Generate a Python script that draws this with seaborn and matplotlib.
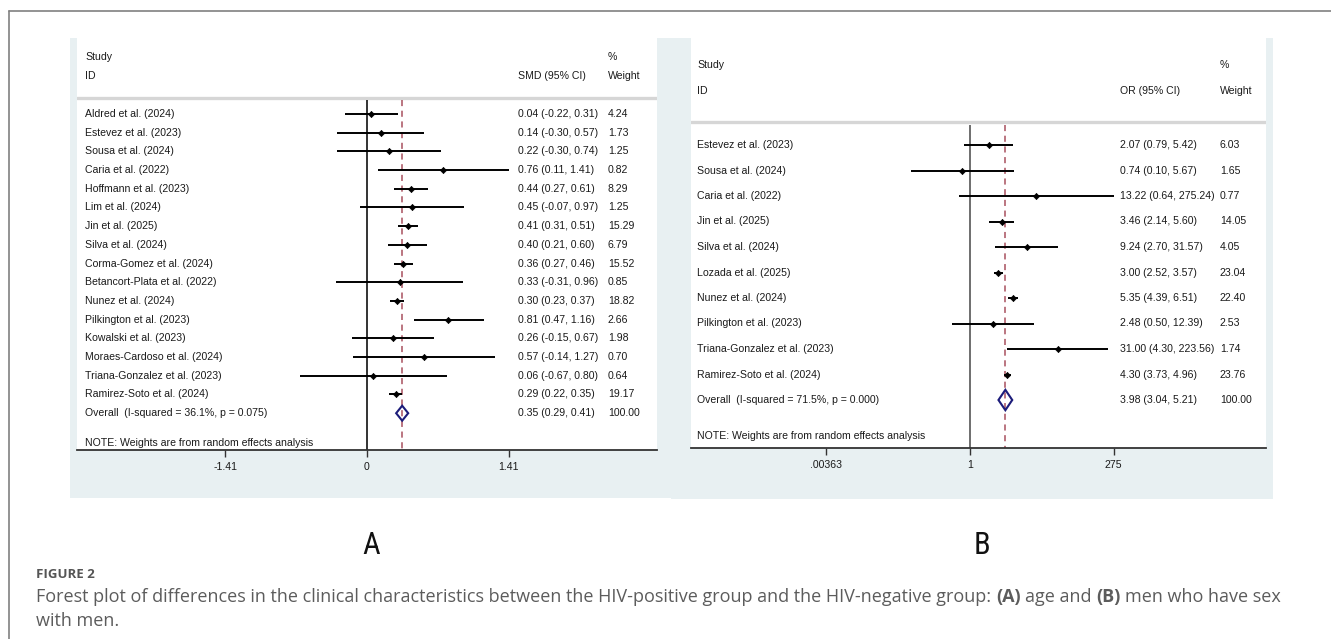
import numpy as np
import pandas as pd
import matplotlib
matplotlib.use("Agg")
import matplotlib.pyplot as plt
import seaborn as sns
from matplotlib.patches import Rectangle, Polygon
from matplotlib.lines import Line2D
from matplotlib.transforms import blended_transform_factory
from matplotlib import font_manager as fm

# ---------------- data ----------------
a_studies = ["Aldred et al. (2024)", "Estevez et al. (2023)", "Sousa et al. (2024)",
             "Caria et al. (2022)", "Hoffmann et al. (2023)", "Lim et al. (2024)",
             "Jin et al. (2025)", "Silva et al. (2024)", "Corma-Gomez et al. (2024)",
             "Betancort-Plata et al. (2022)", "Nunez et al. (2024)", "Pilkington et al. (2023)",
             "Kowalski et al. (2023)", "Moraes-Cardoso et al. (2024)",
             "Triana-Gonzalez et al. (2023)", "Ramirez-Soto et al. (2024)"]
a_est = [0.04, 0.14, 0.22, 0.76, 0.44, 0.45, 0.41, 0.40, 0.36, 0.33, 0.30, 0.81, 0.26, 0.57, 0.06, 0.29]
a_lo = [-0.22, -0.30, -0.30, 0.11, 0.27, -0.07, 0.31, 0.21, 0.27, -0.31, 0.23, 0.47, -0.15, -0.14, -0.67, 0.22]
a_hi = [0.31, 0.57, 0.74, 1.41, 0.61, 0.97, 0.51, 0.60, 0.46, 0.96, 0.37, 1.16, 0.67, 1.27, 0.80, 0.35]
a_w = [4.24, 1.73, 1.25, 0.82, 8.29, 1.25, 15.29, 6.79, 15.52, 0.85, 18.82, 2.66, 1.98, 0.70, 0.64, 19.17]
a_overall = (0.35, 0.29, 0.41)
a_overall_label = "Overall  (I-squared = 36.1%, p = 0.075)"
a_ticks = [-1.41, 0, 1.41]
a_ticklabels = ["-1.41", "0", "1.41"]

b_studies = ["Estevez et al. (2023)", "Sousa et al. (2024)", "Caria et al. (2022)",
             "Jin et al. (2025)", "Silva et al. (2024)", "Lozada et al. (2025)",
             "Nunez et al. (2024)", "Pilkington et al. (2023)",
             "Triana-Gonzalez et al. (2023)", "Ramirez-Soto et al. (2024)"]
b_est = [2.07, 0.74, 13.22, 3.46, 9.24, 3.00, 5.35, 2.48, 31.00, 4.30]
b_lo = [0.79, 0.10, 0.64, 2.14, 2.70, 2.52, 4.39, 0.50, 4.30, 3.73]
b_hi = [5.42, 5.67, 275.24, 5.60, 31.57, 3.57, 6.51, 12.39, 223.56, 4.96]
b_w = [6.03, 1.65, 0.77, 14.05, 4.05, 23.04, 22.40, 2.53, 1.74, 23.76]
b_overall = (3.98, 3.04, 5.21)
b_overall_label = "Overall  (I-squared = 71.5%, p = 0.000)"
b_ticks = [0.00363, 1, 275]
b_ticklabels = [".00363", "1", "275"]

note = "NOTE: Weights are from random effects analysis"
fig_label = "FIGURE 2"
caption_pieces = [("Forest plot of differences in the clinical characteristics between the HIV-positive group and the HIV-negative group:", "normal"),
                  ("(A)", "bold"), ("age and", "normal"), ("(B)", "bold"), ("men who have sex", "normal")]
caption_line2 = "with men."

# ---------------- layout ----------------
W, H = 1331, 639
sns.set_theme(style="white")
plt.rcParams["font.family"] = ["Liberation Sans", "DejaVu Sans"]
fig = plt.figure(figsize=(W / 100, H / 100), dpi=100)
fig.patch.set_facecolor("white")

BG = "#E8F0F2"
TXT = "#1a1a1a"
FS = 7.6


def fig_rect(x0, y0, x1, y1):
    return [x0 / W, 1 - y1 / H, (x1 - x0) / W, (y1 - y0) / H]


# outer frame
fig.add_artist(Line2D([9 / W, 1], [1 - 11 / H, 1 - 11 / H], transform=fig.transFigure,
                      color="#808080", lw=1.2))
fig.add_artist(Line2D([9 / W, 9 / W], [0, 1 - 11 / H], transform=fig.transFigure,
                      color="#808080", lw=1.2))

# panel backgrounds
for (x0, y0, x1, y1) in [(70, 38, 671, 498), (671, 38, 1273, 499)]:
    fig.add_artist(Rectangle((x0 / W, 1 - y1 / H), (x1 - x0) / W, (y1 - y0) / H,
                             transform=fig.transFigure, facecolor=BG, edgecolor="none", zorder=0))


def panel(rect, logx, xlim, ylim, studies, est, lo, hi, w, overall, overall_label,
          ticks, ticklabels, col_label, col_ci, col_w, hdr_study, hdr_id, sep_y,
          note_y, ci_header, diamond_h, vline_color):
    ax = fig.add_axes(fig_rect(*rect))
    ax.set_facecolor("white")
    if logx:
        ax.set_xscale("log")
    ax.set_xlim(*xlim)
    ax.set_ylim(*ylim)
    for s in ["top", "left", "right"]:
        ax.spines[s].set_visible(False)
    ax.spines["bottom"].set_color("#333333")
    ax.spines["bottom"].set_linewidth(1.3)
    ax.set_xticks(ticks)
    ax.set_xticklabels(ticklabels)
    ax.minorticks_off()
    ax.tick_params(axis="x", bottom=True, direction="out", length=5, width=1,
                   color="#333333", labelsize=FS, labelcolor=TXT, pad=4)
    ax.set_yticks([])
    ax.grid(False)

    rows = np.arange(len(studies))
    ybot = ylim[0]
    tr = blended_transform_factory(ax.transAxes, ax.transData)
    x0, x1 = rect[0], rect[2]

    def fx(px):
        return (px - x0) / (x1 - x0)

    def put(px, y, s):
        ax.text(fx(px), y, s, transform=tr, va="center", ha="left", fontsize=FS, color=TXT)

    # header
    ax.axhline(sep_y, color="#d6d6d6", lw=2.4, zorder=1)
    put(col_label, hdr_study, "Study")
    put(col_label, hdr_id, "ID")
    put(col_ci, hdr_id, ci_header)
    put(col_w, hdr_study, "%")
    put(col_w, hdr_id, "Weight")

    # reference lines
    ax.vlines(1 if logx else 0, sep_y + 0.1, ybot, color=vline_color, lw=1.2, zorder=2)
    ax.vlines(overall[0], sep_y + 0.1, ybot, color="#A8505E", lw=1.1,
              linestyles=(0, (4, 3)), zorder=2)

    # study CIs and points
    ax.hlines(rows, lo, hi, color="black", lw=1.4, zorder=3)
    df = pd.DataFrame({"est": est, "row": rows})
    sns.scatterplot(data=df, x="est", y="row", marker="D", s=10, color="black",
                    edgecolor="black", linewidth=0.5, ax=ax, legend=False, zorder=4)
    ax.set_xlabel("")
    ax.set_ylabel("")
    ax.set_ylim(*ylim)

    for r, name, e, l, h, ww in zip(rows, studies, est, lo, hi, w):
        put(col_label, r, name)
        put(col_ci, r, f"{e:.2f} ({l:.2f}, {h:.2f})")
        put(col_w, r, f"{ww:.2f}")

    # overall
    ro = len(studies)
    e, l, h = overall
    ax.add_patch(Polygon([(l, ro), (e, ro - diamond_h), (h, ro), (e, ro + diamond_h)],
                         closed=True, fill=False, edgecolor="#1c1c7a", lw=1.5, zorder=5))
    put(col_label, ro, overall_label)
    put(col_ci, ro, f"{e:.2f} ({l:.2f}, {h:.2f})")
    put(col_w, ro, "100.00")
    put(col_label, note_y, note)
    return ax


# Panel A: zero at 367 px, 100.5 px per unit; rows from 114 px, 18.7 px apart
panel(rect=(77, 38, 657, 450), logx=False,
      xlim=((77 - 367) / 100.5, (657 - 367) / 100.5),
      ylim=((450 - 114) / 18.7, (38 - 114) / 18.7),
      studies=a_studies, est=a_est, lo=a_lo, hi=a_hi, w=a_w,
      overall=a_overall, overall_label=a_overall_label,
      ticks=a_ticks, ticklabels=a_ticklabels,
      col_label=85, col_ci=518, col_w=608,
      hdr_study=(57 - 114) / 18.7, hdr_id=(76 - 114) / 18.7, sep_y=(98.5 - 114) / 18.7,
      note_y=(443 - 114) / 18.7, ci_header="SMD (95% CI)", diamond_h=0.4,
      vline_color="#111111")

# Panel B: 1 at 970 px, 25.6 px per ln-unit; rows from 145 px, 25.5 px apart
panel(rect=(691, 38, 1266, 448), logx=True,
      xlim=(np.exp((691 - 970) / 25.6), np.exp((1266 - 970) / 25.6)),
      ylim=((448 - 145) / 25.5, (38 - 145) / 25.5),
      studies=b_studies, est=b_est, lo=b_lo, hi=b_hi, w=b_w,
      overall=b_overall, overall_label=b_overall_label,
      ticks=b_ticks, ticklabels=b_ticklabels,
      col_label=697, col_ci=1120, col_w=1220,
      hdr_study=(65 - 145) / 25.5, hdr_id=(91 - 145) / 25.5, sep_y=(122 - 145) / 25.5,
      note_y=(436 - 145) / 25.5, ci_header="OR (95% CI)", diamond_h=0.4,
      vline_color="#555555")


# condensed font for the panel letters (real text)
def find_condensed():
    prefs = ["liberationsansnarrow", "robotocondensed", "dejavusanscondensed", "opensanscondensed"]
    cands = []
    for f in fm.fontManager.ttflist:
        key = (f.name + " " + str(f.fname)).lower().replace(" ", "").replace("-", "").replace("_", "")
        if ("narrow" in key or "condensed" in key) and f.style == "normal":
            score = 99
            for i, p in enumerate(prefs):
                if p in key:
                    score = i
                    break
            w = f.weight if isinstance(f.weight, int) else 400
            cands.append((score, abs(w - 400), f.fname))
    if cands:
        cands.sort()
        return fm.FontProperties(fname=cands[0][2])
    return fm.FontProperties(family="DejaVu Sans", stretch="condensed")


letter_fp = find_condensed()
letter_fp.set_size(22)
for x, lab in [(371, "A"), (982, "B")]:
    fig.text(x / W, 1 - 545 / H, lab, ha="center", va="center", fontproperties=letter_fp,
             color="#111111")

# caption
CAP = "#5c5c5c"
CAPX = 36.0
fig.text(CAPX / W, 1 - 574 / H, fig_label, ha="left", va="center", fontsize=9.5,
         family=["Open Sans", "DejaVu Sans"], weight="bold", color="#555555")

renderer = fig.canvas.get_renderer()
cap_fs = 13.0


def measure(s, weight="normal"):
    t = fig.text(0, 0, s, fontsize=cap_fs, family=["Open Sans", "DejaVu Sans"], weight=weight)
    wdt = t.get_window_extent(renderer).width
    t.remove()
    return wdt


space = measure("a a") - measure("aa")
xpos = CAPX
for s, wt in caption_pieces:
    t = fig.text(xpos / W, 1 - 597 / H, s, ha="left", va="center", fontsize=cap_fs,
                 family=["Open Sans", "DejaVu Sans"], weight=wt, color=CAP)
    xpos += t.get_window_extent(renderer).width + space
fig.text(CAPX / W, 1 - 621 / H, caption_line2, ha="left", va="center", fontsize=cap_fs,
         family=["Open Sans", "DejaVu Sans"], color=CAP)

fig.savefig("out.png", dpi=100, facecolor="white")
